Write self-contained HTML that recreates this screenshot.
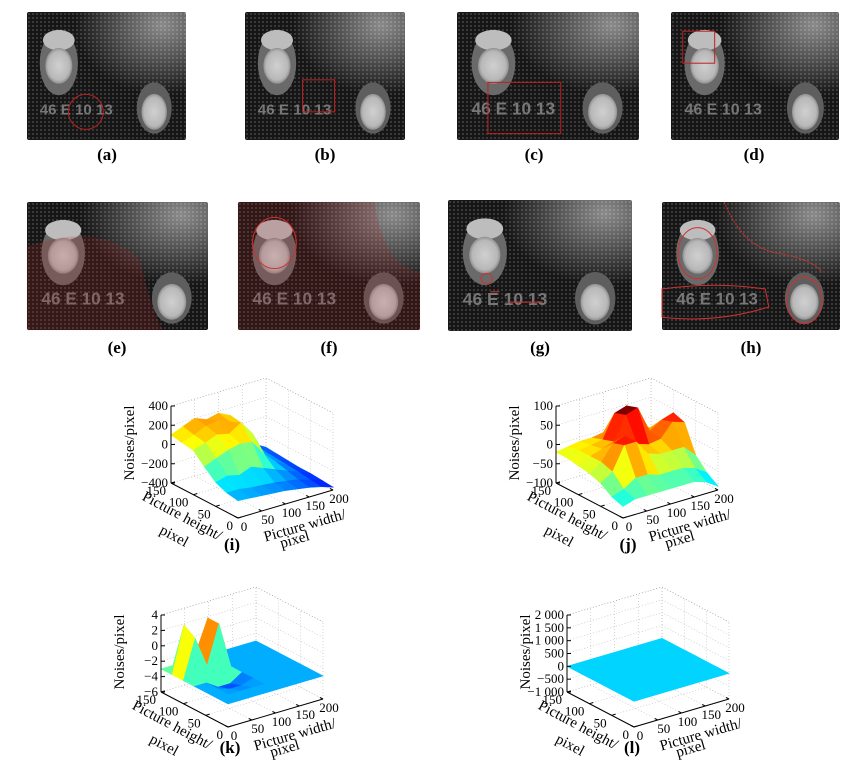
<!DOCTYPE html>
<html><head><meta charset="utf-8">
<style>
html,body{margin:0;padding:0;background:#fff;}
#root{position:relative;width:864px;height:772px;overflow:hidden;background:#fff;font-family:"Liberation Serif",serif;}
.lbl{position:absolute;font:bold 17px "Liberation Serif",serif;transform:translateX(-50%);color:#000;}
svg{position:absolute;left:0;top:0;}
</style></head>
<body>
<div id="root">
<svg id="main" width="864" height="772">
<defs>
<pattern id="dots" width="4" height="4" patternUnits="userSpaceOnUse"><circle cx="2" cy="2" r="1" fill="#9a9a9a" opacity="0.35"/></pattern>
<radialGradient id="hl" cx="0.85" cy="0.1" r="0.55"><stop offset="0" stop-color="#fff" stop-opacity="0.5"/><stop offset="1" stop-color="#fff" stop-opacity="0"/></radialGradient>
<radialGradient id="bolt" cx="0.5" cy="0.5" r="0.5"><stop offset="0" stop-color="#d0d0d0"/><stop offset="0.8" stop-color="#b8b8b8"/><stop offset="1" stop-color="#909090"/></radialGradient>
</defs>
</svg>
<div class="lbl" style="left:107px;top:145px">(a)</div>
<div class="lbl" style="left:325px;top:145px">(b)</div>
<div class="lbl" style="left:534px;top:145px">(c)</div>
<div class="lbl" style="left:754px;top:145px">(d)</div>
<div class="lbl" style="left:117px;top:338px">(e)</div>
<div class="lbl" style="left:329px;top:338px">(f)</div>
<div class="lbl" style="left:540px;top:338px">(g)</div>
<div class="lbl" style="left:751px;top:338px">(h)</div>
<div class="lbl" style="left:232px;top:535px">(i)</div>
<div class="lbl" style="left:628px;top:535px">(j)</div>
<div class="lbl" style="left:230px;top:738px">(k)</div>
<div class="lbl" style="left:632px;top:738px">(l)</div>
</div>
<script>
const NS="http://www.w3.org/2000/svg";
const main=document.getElementById('main');
function mk(tag,attrs,parent){const e=document.createElementNS(NS,tag);for(const k in attrs)e.setAttribute(k,attrs[k]);(parent||main).appendChild(e);return e;}

// ---------- photos ----------
const photoBoxes=[
 ['a',27,12,159,128],['b',245,12,160,128],['c',457,12,182,128],['d',671,12,168,128],
 ['e',27,202,181,128],['f',238,202,182,128],['g',448,200,184,131],['h',662,202,178,128]];
function photo(id,x,y,w,h){
 const g=mk('g',{transform:`translate(${x},${y})`});
 
 
 mk('rect',{x:0,y:0,width:w,height:h,fill:'#161616',rx:2},g);
 mk('rect',{x:0,y:0,width:w,height:h,fill:'url(#dots)'},g);
 mk('rect',{x:0,y:0,width:w,height:h,fill:'url(#hl)'},g);
 mk('ellipse',{cx:.2*w,cy:.4*h,rx:.12*w,ry:.25*h,fill:'#6a6a6a'},g);
 mk('ellipse',{cx:.2*w,cy:.22*h,rx:.1*w,ry:.08*h,fill:'#bdbdbd'},g);
 mk('ellipse',{cx:.2*w,cy:.42*h,rx:.085*w,ry:.14*h,fill:'url(#bolt)'},g);
 mk('ellipse',{cx:.8*w,cy:.75*h,rx:.11*w,ry:.2*h,fill:'#5e5e5e'},g);
 mk('ellipse',{cx:.8*w,cy:.78*h,rx:.08*w,ry:.14*h,fill:'url(#bolt)'},g);
 const t=mk('text',{x:.08*w,y:.8*h,fill:'#777','font-size':(.095*w).toFixed(1),'font-family':'Liberation Sans, sans-serif','font-weight':'bold'},g);
 t.textContent='46 E 10 13';
 return g;
}
const P={};
photoBoxes.forEach(p=>{P[p[0]]=photo(...p);});
function R(id){const b=photoBoxes.find(p=>p[0]===id);return {g:P[id],w:b[3],h:b[4]};}
let o;
o=R('a');mk('circle',{cx:.37*o.w,cy:.78*o.h,r:.11*o.w,fill:'none',stroke:'#c02020','stroke-width':1},o.g);
o=R('b');mk('rect',{x:.36*o.w,y:.53*o.h,width:.2*o.w,height:.25*o.h,fill:'none',stroke:'#c02020','stroke-width':1},o.g);
o=R('c');mk('rect',{x:.17*o.w,y:.55*o.h,width:.4*o.w,height:.4*o.h,fill:'none',stroke:'#c02020','stroke-width':1},o.g);
o=R('d');mk('rect',{x:.07*o.w,y:.15*o.h,width:.19*o.w,height:.25*o.h,fill:'none',stroke:'#c02020','stroke-width':1},o.g);
o=R('e');mk('path',{d:`M0 ${.35*o.h} Q${.4*o.w} ${.15*o.h} ${.62*o.w} ${.45*o.h} Q${.7*o.w} ${.9*o.h} ${.75*o.w} ${o.h} L0 ${o.h}Z`,fill:'#b02020',opacity:.2,stroke:'#d03030','stroke-dasharray':'1 2'},o.g);
o=R('f');mk('path',{d:`M0 0 L${.75*o.w} 0 Q${.8*o.w} ${.5*o.h} ${o.w} ${.55*o.h} L${o.w} ${o.h} L0 ${o.h}Z`,fill:'#b02020',opacity:.18,stroke:'#d03030','stroke-dasharray':'1 2'},o.g);
mk('ellipse',{cx:.2*o.w,cy:.32*o.h,rx:.12*o.w,ry:.2*o.h,fill:'none',stroke:'#d03030','stroke-width':1},o.g);
o=R('g');mk('ellipse',{cx:.21*o.w,cy:.6*o.h,rx:.03*o.w,ry:.04*o.h,fill:'none',stroke:'#d03030'},o.g);
mk('path',{d:`M${.23*o.w} ${.7*o.h} h${.05*o.w} M${.33*o.w} ${.78*o.h} h${.18*o.w}`,stroke:'#d03030',fill:'none'},o.g);
o=R('h');mk('path',{d:`M0 ${.68*o.h} Q${.3*o.w} ${.62*o.h} ${.58*o.w} ${.68*o.h} L${.6*o.w} ${.82*o.h} Q${.3*o.w} ${.95*o.h} 0 ${.9*o.h}Z`,fill:'none',stroke:'#d03030','stroke-width':1},o.g);
mk('path',{d:`M${.35*o.w} 0 Q${.45*o.w} ${.35*o.h} ${.65*o.w} ${.4*o.h} Q${.85*o.w} ${.45*o.h} ${.9*o.w} ${.55*o.h}`,fill:'none',stroke:'#d03030','stroke-dasharray':'2 1'},o.g);
mk('ellipse',{cx:.2*o.w,cy:.4*o.h,rx:.11*o.w,ry:.2*o.h,fill:'none',stroke:'#d03030'},o.g);
mk('ellipse',{cx:.8*o.w,cy:.77*o.h,rx:.1*o.w,ry:.18*o.h,fill:'none',stroke:'#d03030'},o.g);

// ---------- 3D plots data ----------
const hTicks=[0,50,100,150];
const wTicks=[0,50,100,150,200];
const gridH=[0,25,50,75,100,125,150];
const gridW=[0,25,50,75,100,125,150,175,200];
const zTicksI=[-400,-200,0,200,400];
const zTicksJ=[-100,-50,0,50,100];
const zTicksK=[-6,-4,-2,0,2,4];
const zTicksL=[-1000,-500,0,500,1000,1500,2000];
const zLabelsL=['\u22121 000','\u2212500','0','500','1 000','1 500','2 000'];
// rows: h=0 .. 150
const surfI=[
 [-220,-230,-240,-250,-260,-280,-300,-330,-370],
 [-200,-200,-220,-230,-240,-260,-280,-320,-360],
 [-150,-120,-150,-100,-150,-200,-250,-300,-350],
 [-50,0,50,80,60,-100,-220,-290,-350],
 [60,100,150,120,200,50,-200,-280,-340],
 [80,120,180,200,150,100,-180,-270,-330],
 [100,150,200,150,180,120,-150,-250,-320]];
const surfJ=[
 [-70,-60,-60,-60,-60,-60,-60,-70,-90],
 [-60,-50,-30,-30,-40,-40,-40,-50,-70],
 [-40,-20,40,40,0,-10,-10,-10,-40],
 [-30,-10,30,40,10,0,5,40,30],
 [-25,-10,0,10,70,80,10,30,40],
 [-20,-10,-5,0,60,70,0,-5,-20],
 [-20,-15,-10,-10,-5,0,0,-10,-40]];
const surfK=[
 [-3,-3,-3,-3,-3,-3,-3,-3,-3],
 [-3,-3,-3,-3,-3,-3,-3,-3,-3],
 [-3,-3,-3.5,-3.5,-3,-3,-3,-3,-3],
 [-3,-3,-4,-4,-3,-3,-3,-3,-3],
 [-3,2,-2,3,-3,-3,-3,-3,-3],
 [-3,3,-1,3,-3,-3,-3,-3,-3],
 [-3,-3,-3,-3,-3,-3,-3,-3,-3]];
const surfL=[
 [0,0,0,0,0,0,0,0,0],
 [0,0,0,0,0,0,0,0,0],
 [0,0,0,0,0,0,0,0,0],
 [0,0,0,0,0,0,0,0,0],
 [0,0,0,0,0,0,0,0,0],
 [0,0,0,0,0,0,0,0,0],
 [0,0,0,0,0,0,0,0,0]];

function jet(t){t=Math.max(0,Math.min(1,t));
 const r=Math.max(0,Math.min(1,1.5-Math.abs(4*t-3))),g=Math.max(0,Math.min(1,1.5-Math.abs(4*t-2))),b=Math.max(0,Math.min(1,1.5-Math.abs(4*t-1)));
 return `rgb(${Math.round(r*255)},${Math.round(g*255)},${Math.round(b*255)})`;}

function plot3d(name,ox,oy,zTicks,zLabels,surf,cmin,cmax){
 const g=mk('g',{});
 
 
 const zmin=zTicks[0],zmax=zTicks[zTicks.length-1],zpx=77;
 const ew=[95/200,-28/200],eh=[-67/150,-35/150];
 const pr=(w,h,z)=>[ox+w*ew[0]+h*eh[0], oy+w*ew[1]+h*eh[1]-(z-zmin)/(zmax-zmin)*zpx];
 const L=(a,b,st,name)=>{const e=mk('line',{x1:a[0],y1:a[1],x2:b[0],y2:b[1],stroke:st.c||'#000','stroke-width':st.w||1,'stroke-dasharray':st.d||'none'},g);return e;};
 const grid={c:'#bbb',w:0.6,d:'1 2'};
 zTicks.forEach(z=>{L(pr(0,150,z),pr(200,150,z),grid,'grid-line');L(pr(200,150,z),pr(200,0,z),grid,'grid-line');});
 wTicks.forEach(w=>{L(pr(w,150,zmin),pr(w,150,zmax),grid,'grid-line');L(pr(w,0,zmin),pr(w,150,zmin),grid,'grid-line');});
 hTicks.forEach(h=>{L(pr(200,h,zmin),pr(200,h,zmax),grid,'grid-line');L(pr(0,h,zmin),pr(200,h,zmin),grid,'grid-line');});
 L(pr(0,150,zmax),pr(200,150,zmax),{c:'#999',w:.6,d:'1 2'},'box-edge');
 L(pr(200,150,zmax),pr(200,0,zmax),{c:'#999',w:.6,d:'1 2'},'box-edge');
 const cells=[];
 for(let i=0;i<gridH.length-1;i++)for(let j=0;j<gridW.length-1;j++)cells.push([i,j]);
 cells.sort((a,b)=>(b[0]+b[1])-(a[0]+a[1]));
 cells.forEach(([i,j])=>{
  const v=[surf[i][j],surf[i][j+1],surf[i+1][j+1],surf[i+1][j]];
  const pts=[pr(gridW[j],gridH[i],v[0]),pr(gridW[j+1],gridH[i],v[1]),pr(gridW[j+1],gridH[i+1],v[2]),pr(gridW[j],gridH[i+1],v[3])];
  const avg=(v[0]+v[1]+v[2]+v[3])/4;
  const c=jet((avg-cmin)/(cmax-cmin));
  const p=mk('polygon',{points:pts.map(q=>q.join(',')).join(' '),fill:c,stroke:c,'stroke-width':0.6},g);
  
  
 });
 L(pr(0,150,zmin),pr(0,150,zmax),{},'z-axis');
 L(pr(0,0,zmin),pr(0,150,zmin),{},'height-axis');
 L(pr(0,0,zmin),pr(200,0,zmin),{},'width-axis');
 const T=(x,y,s,anc,name,extra)=>{const t=mk('text',Object.assign({x:x,y:y,'font-size':13,'font-family':'Liberation Serif, serif','text-anchor':anc},extra||{}),g);t.textContent=s;return t;};
 zTicks.forEach((z,k)=>{const p=pr(0,150,z);L(p,[p[0]+4,p[1]],{},'z-tick');T(p[0]-3,p[1]+4,zLabels?zLabels[k]:String(z).replace('-','\u2212'),'end','z-tick-label');});
 hTicks.forEach(h=>{const p=pr(0,h,zmin);L(p,[p[0]+4,p[1]-1.2],{},'height-tick');T(p[0]-5,p[1]+12,String(h),'end','height-tick-label');});
 wTicks.forEach(w=>{const p=pr(w,0,zmin);L(p,[p[0]-3,p[1]-1.5],{},'width-tick');T(p[0]+6,p[1]+13,String(w),'middle','width-tick-label');});
 T(ox-104,oy-75,'Noises/pixel','middle','z-axis-title',{transform:`rotate(-90 ${ox-104} ${oy-75})`,'font-size':15});
 T(ox-58,oy+2,'Picture height/','middle','height-axis-title',{transform:`rotate(28 ${ox-58} ${oy+2})`,'font-size':15});
 T(ox-66,oy+22,'pixel','middle','height-axis-title-unit',{transform:`rotate(28 ${ox-66} ${oy+22})`,'font-size':15});
 T(ox+68,oy+12,'Picture width/','middle','width-axis-title',{transform:`rotate(-16 ${ox+68} ${oy+12})`,'font-size':15});
 T(ox+58,oy+26,'pixel','middle','width-axis-title-unit',{transform:`rotate(-16 ${ox+58} ${oy+26})`,'font-size':15});
}
plot3d('i',238,518,zTicksI,null,surfI,-500,450);
plot3d('j',623,518,zTicksJ,null,surfJ,-150,70);
plot3d('k',228,727,zTicksK,null,surfK,-5.5,3);
plot3d('l',634,727,zTicksL,zLabelsL,surfL,-1000,2000);
</script>
</body></html>
